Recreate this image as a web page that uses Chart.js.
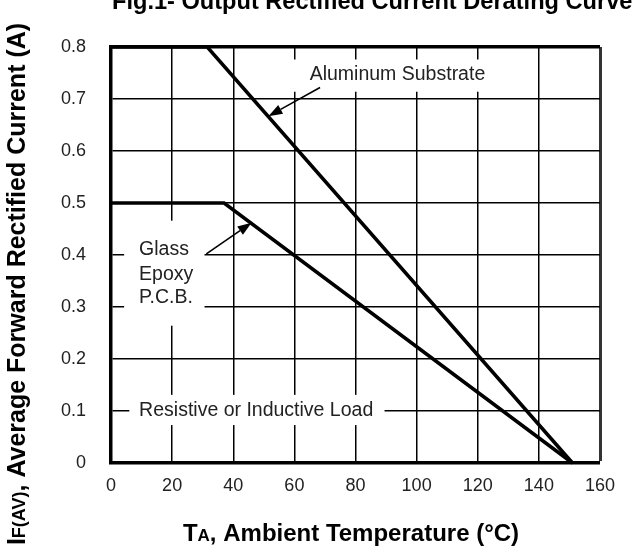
<!DOCTYPE html>
<html>
<head>
  <meta charset="utf-8">
  <script src="https://cdn.jsdelivr.net/npm/chart.js@4.4.1/dist/chart.umd.min.js"></script>
  <style>
    body { margin: 0; background: #fff; }
    #wrap { width: 640px; height: 556px; }
  </style>
</head>
<body>
  <div id="wrap"><canvas id="chart" width="640" height="556"></canvas></div>

  <script>
    // curves
    const alumTemp = [0, 31.5, 151];
    const alumCurrent = [0.8, 0.8, 0];
    const glassTemp = [0, 37, 151];
    const glassCurrent = [0.5, 0.5, 0];

    const xTicks = [0, 20, 40, 60, 80, 100, 120, 140, 160];
    const yTicks = ['0', '0.1', '0.2', '0.3', '0.4', '0.5', '0.6', '0.7', '0.8'];

    const FONT = '"Liberation Sans", Arial, Helvetica, sans-serif';

    // white boxes cut into the grid behind the labels (data units: x0, x1, y0, y1)
    const gaps = [
      [58.5, 122, 0.776, 0.714],
      [4.3, 30.6, 0.466, 0.264],
      [6, 89.5, 0.131, 0.073]
    ];
    // text labels inside the plot (left x, centre y)
    const notes = [
      { text: 'Aluminum Substrate', x: 65, y: 0.747 },
      { text: 'Glass', x: 9.2, y: 0.410 },
      { text: 'Epoxy', x: 9.2, y: 0.363 },
      { text: 'P.C.B.', x: 9.2, y: 0.318 },
      { text: 'Resistive or Inductive Load', x: 9.2, y: 0.1 }
    ];
    // arrows: from (x0,y0) to tip (x1,y1)
    const arrows = [
      [68.4, 0.722, 51.5, 0.667],
      [31.2, 0.402, 46, 0.462]
    ];

    function toPoints(xs, ys) {
      return xs.map((x, i) => ({ x: x, y: ys[i] }));
    }

    // draw a string made of parts with different sizes, centred on cx
    function richText(ctx, parts, size, cx, cy) {
      let w = 0;
      parts.forEach(p => {
        ctx.font = 'bold ' + Math.round(size * p[1]) + 'px ' + FONT;
        w += ctx.measureText(p[0]).width;
      });
      let x = cx - w / 2;
      ctx.textAlign = 'left';
      ctx.textBaseline = 'alphabetic';
      parts.forEach(p => {
        ctx.font = 'bold ' + Math.round(size * p[1]) + 'px ' + FONT;
        ctx.fillText(p[0], x, cy);
        x += ctx.measureText(p[0]).width;
      });
    }

    const gapPlugin = {
      id: 'gaps',
      beforeDatasetsDraw(chart) {
        const ctx = chart.ctx, xs = chart.scales.x, ys = chart.scales.y;
        ctx.save();
        ctx.fillStyle = '#fff';
        gaps.forEach(g => {
          const x0 = xs.getPixelForValue(g[0]), x1 = xs.getPixelForValue(g[1]);
          const y0 = ys.getPixelForValue(g[2]), y1 = ys.getPixelForValue(g[3]);
          ctx.fillRect(x0, y0, x1 - x0, y1 - y0);
        });
        ctx.restore();
      }
    };

    const notesPlugin = {
      id: 'notes',
      afterDatasetsDraw(chart) {
        const ctx = chart.ctx, xs = chart.scales.x, ys = chart.scales.y;
        ctx.save();
        ctx.fillStyle = '#222';
        ctx.font = '19.5px ' + FONT;
        ctx.textAlign = 'left';
        ctx.textBaseline = 'middle';
        notes.forEach(n => {
          ctx.fillText(n.text, xs.getPixelForValue(n.x), ys.getPixelForValue(n.y));
        });

        ctx.strokeStyle = '#000';
        ctx.fillStyle = '#000';
        ctx.lineWidth = 1.6;
        arrows.forEach(a => {
          const x0 = xs.getPixelForValue(a[0]), y0 = ys.getPixelForValue(a[1]);
          const x1 = xs.getPixelForValue(a[2]), y1 = ys.getPixelForValue(a[3]);
          const ang = Math.atan2(y1 - y0, x1 - x0);
          const len = 14, half = 5;
          const bx = x1 - len * Math.cos(ang), by = y1 - len * Math.sin(ang);
          ctx.beginPath();
          ctx.moveTo(x0, y0);
          ctx.lineTo(bx, by);
          ctx.stroke();
          ctx.beginPath();
          ctx.moveTo(x1, y1);
          ctx.lineTo(bx + half * Math.sin(ang), by - half * Math.cos(ang));
          ctx.lineTo(bx - half * Math.sin(ang), by + half * Math.cos(ang));
          ctx.closePath();
          ctx.fill();
        });

        // titles
        ctx.fillStyle = '#000';
        ctx.font = 'bold 23.6px ' + FONT;
        ctx.textAlign = 'left';
        ctx.textBaseline = 'alphabetic';
        ctx.fillText('Fig.1- Output Rectified Current Derating Curve', 112, 9);

        richText(ctx, [['T', 1], ['A', 0.72], [', Ambient Temperature (°C)', 1]], 24, 351, 541);

        ctx.translate(25, 284);
        ctx.rotate(-Math.PI / 2);
        richText(ctx, [['I', 1], ['F(AV)', 0.72], [', Average Forward Rectified Current (A)', 1]], 25, 0, 0);
        ctx.restore();
      }
    };

    const ctx = document.getElementById('chart').getContext('2d');
    const chart = new Chart(ctx, {
      type: 'line',
      data: {
        datasets: [{
          label: 'Aluminum Substrate',
          data: toPoints(alumTemp, alumCurrent),
          borderColor: '#000',
          borderWidth: 3.5,
          pointRadius: 0,
          fill: false,
          clip: 6
        }, {
          label: 'Glass Epoxy P.C.B.',
          data: toPoints(glassTemp, glassCurrent),
          borderColor: '#000',
          borderWidth: 3.5,
          pointRadius: 0,
          fill: false,
          clip: 6
        }]
      },
      options: {
        responsive: false,
        animation: false,
        layout: { padding: { left: 0, top: 47, right: 40, bottom: 0 } },
        plugins: {
          legend: { display: false },
          tooltip: { enabled: false }
        },
        scales: {
          x: {
            type: 'linear',
            min: 0,
            max: 160,
            afterFit(scale) { scale.height = 93; },
            afterBuildTicks(scale) { scale.ticks = xTicks.map(v => ({ value: v })); },
            ticks: {
              padding: 12,
              color: '#222',
              font: { family: FONT, size: 18 },
              maxRotation: 0
            },
            grid: {
              drawTicks: false,
              color: ctx => ctx.tick && ctx.tick.value === 160 ? '#333' : '#000',
              lineWidth: ctx => {
                if (!ctx.tick) return 1.5;
                if (ctx.tick.value === 0) return 0;
                return ctx.tick.value === 160 ? 3 : 1.5;
              }
            },
            border: { display: true, color: '#000', width: 3.5 }
          },
          y: {
            min: 0,
            max: 0.8,
            afterFit(scale) { scale.width = 111; },
            afterBuildTicks(scale) { scale.ticks = yTicks.map(v => ({ value: parseFloat(v) })); },
            ticks: {
              padding: 25,
              color: '#222',
              font: { family: FONT, size: 18 },
              callback: (v, i) => yTicks[i]
            },
            grid: {
              drawTicks: false,
              color: '#000',
              lineWidth: ctx => {
                if (!ctx.tick) return 1.5;
                if (ctx.tick.value === 0) return 0;
                return ctx.tick.value > 0.79 ? 3.5 : 1.5;
              }
            },
            border: { display: true, color: '#000', width: 3.5 }
          }
        }
      },
      plugins: [gapPlugin, notesPlugin]
    });
  </script>
</body>
</html>
